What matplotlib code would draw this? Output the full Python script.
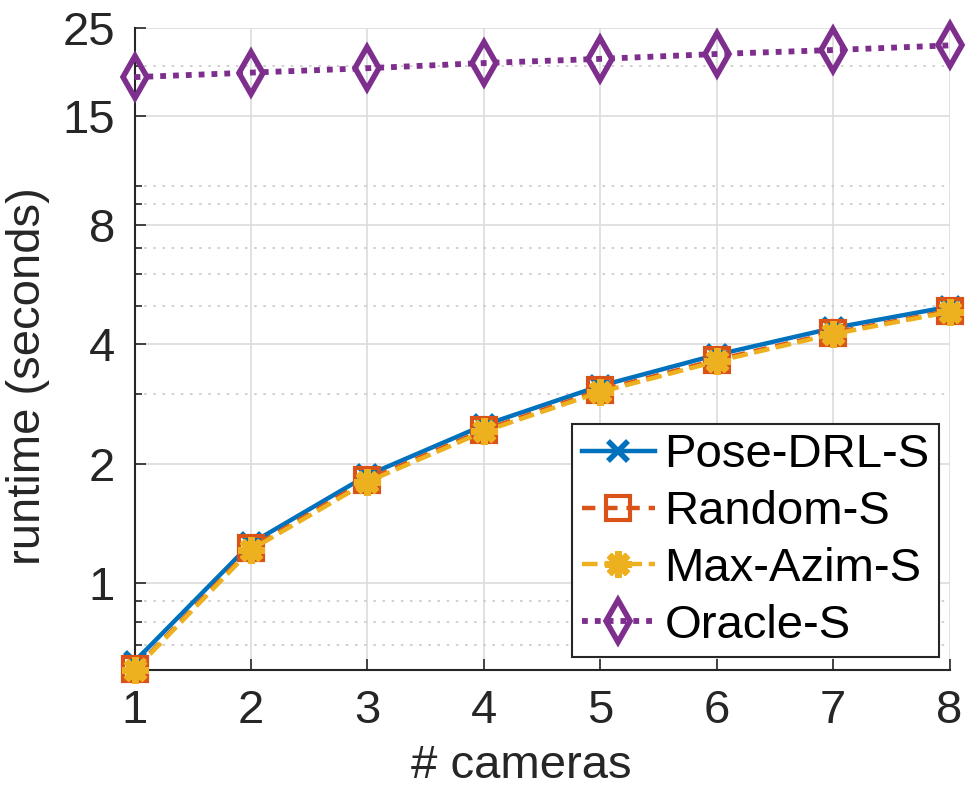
import matplotlib.pyplot as plt
from matplotlib.ticker import FixedLocator, NullFormatter

plt.rcParams["font.family"] = ["Liberation Sans", "DejaVu Sans"]

cameras = [1, 2, 3, 4, 5, 6, 7, 8]
pose_drl = [0.635, 1.26, 1.87, 2.50, 3.14, 3.76, 4.39, 4.97]
random_s = [0.607, 1.225, 1.82, 2.43, 3.06, 3.65, 4.27, 4.85]
max_azim = [0.604, 1.215, 1.80, 2.41, 3.03, 3.62, 4.24, 4.82]
oracle = [18.8, 19.3, 19.8, 20.4, 20.9, 21.5, 22.0, 22.6]

y_ticks = [1, 2, 4, 8, 15, 25]
y_minor = [0.7, 0.8, 0.9, 3, 5, 6, 7, 9, 10, 20]

blue = "#0072BD"
red = "#D95319"
yellow = "#EDB120"
purple = "#7E2F8E"

fs = 34

fig = plt.figure(figsize=(9.68, 7.90), dpi=100)
ax = fig.add_axes([0.139, 0.152, 0.842, 0.8126])

lw = 3.2
ax.plot(cameras, pose_drl, "-", color=blue, lw=lw, marker="x", ms=14, mew=4,
        label="Pose-DRL-S", zorder=3, clip_on=False)
ax.plot(cameras, random_s, "--", color=red, lw=lw, marker="s", ms=17, mew=3,
        mfc="none", label="Random-S", zorder=4, dashes=(3, 2), clip_on=False)
ax.plot(cameras, max_azim, "--", color=yellow, lw=lw, marker=(8, 2, 0), ms=19, mew=5,
        label="Max-Azim-S", zorder=5, dashes=(3.5, 1.5), clip_on=False)
ax.plot(cameras, oracle, ":", color=purple, lw=lw + 1, marker="d", ms=21, mew=4,
        mfc="none", label="Oracle-S", zorder=6, dashes=(1, 1.2), clip_on=False)

ax.set_yscale("log")
ax.set_ylim(0.605, 25)
ax.set_xlim(1, 8)
ax.set_xticks(cameras)
ax.yaxis.set_major_locator(FixedLocator(y_ticks))
ax.yaxis.set_minor_locator(FixedLocator(y_minor))
ax.set_yticklabels([str(v) for v in y_ticks])
ax.yaxis.set_minor_formatter(NullFormatter())

ax.grid(True, which="major", color="#dcdcdc", lw=1.2)
ax.grid(True, which="minor", axis="y", color="#c8c8c8", lw=1.2, ls=(0, (1.5, 4)))
ax.set_axisbelow(True)

for side in ["top", "right"]:
    ax.spines[side].set_visible(False)
for side in ["left", "bottom"]:
    ax.spines[side].set_color("#262626")
    ax.spines[side].set_linewidth(1.5)

ax.tick_params(which="both", direction="in", colors="#262626", labelsize=fs,
               width=1.2)
ax.tick_params(which="major", length=8)
ax.tick_params(which="minor", length=5)
ax.tick_params(axis="y", pad=14)
ax.tick_params(axis="x", pad=14)

ax.set_xlabel("# cameras", fontsize=fs, color="#262626")
ax.xaxis.set_label_coords(0.475, -0.116)
ax.set_ylabel("runtime (seconds)", fontsize=fs, color="#262626")
ax.yaxis.set_label_coords(-0.104, 0.458)

leg = ax.legend(loc="lower right", bbox_to_anchor=(0.987, 0.02), fontsize=fs,
                fancybox=False, framealpha=1, edgecolor="#262626",
                handlelength=1.55, handletextpad=0.2, labelspacing=0.27,
                borderpad=0.2, borderaxespad=0)
leg.get_frame().set_linewidth(1.5)

fig.savefig("out.png", dpi=100)
